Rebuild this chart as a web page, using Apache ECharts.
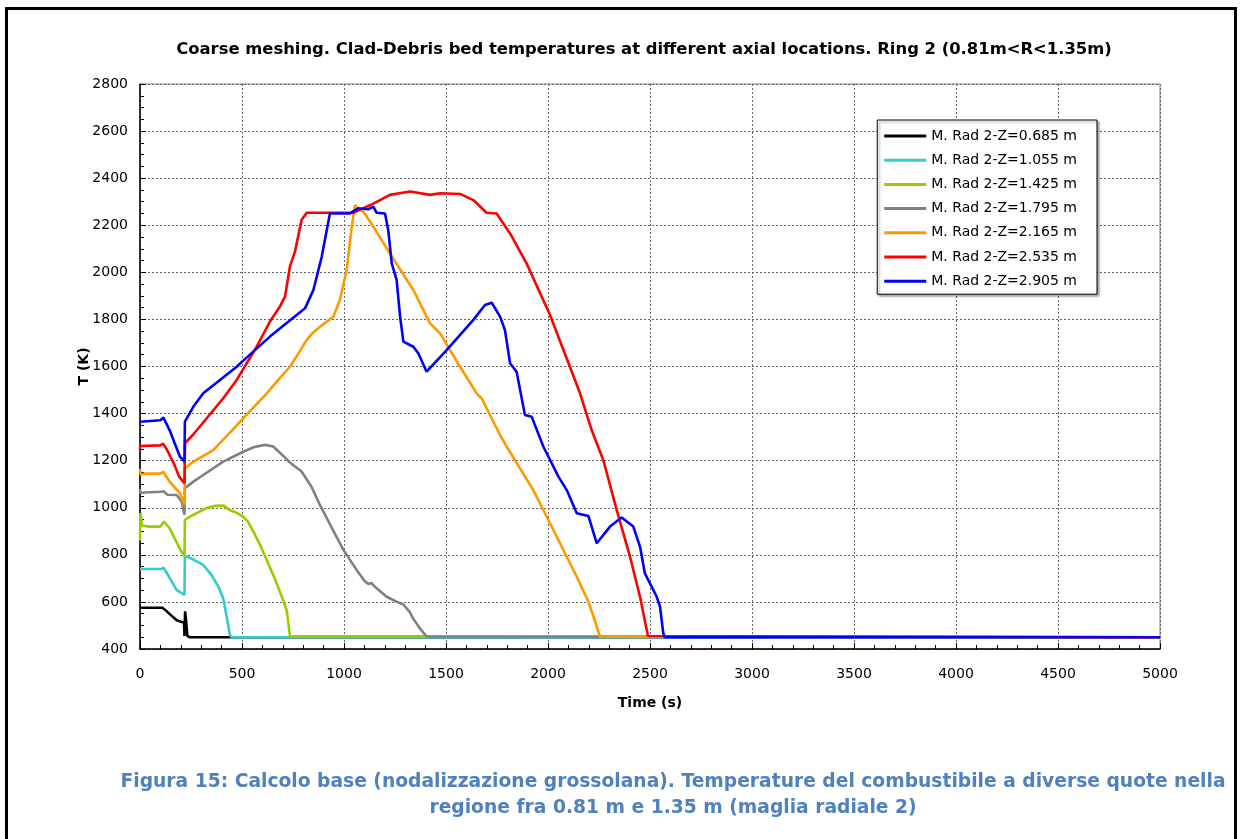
<!DOCTYPE html>
<html>
<head>
<meta charset="utf-8">
<script src="https://cdn.jsdelivr.net/npm/echarts@6/dist/echarts.min.js"></script>
<style>
  html, body { margin: 0; padding: 0; background: #fff; }
  #frame { position: absolute; left: 5px; top: 7px; width: 1226px; height: 840px; border: 3px solid #000; border-bottom: none; }
  #chart { position: absolute; left: 0; top: 0; width: 1243px; height: 839px; }
</style>
</head>
<body>
<div id="frame"></div>
<div id="chart"></div>
<script>
// time (s) / temperature (K) pairs
const z0685 = [[0,575],[110,575],[125,565],[150,545],[180,522],[205,515],[216,512],[218,455],[221,560],[226,520],[232,455],[245,450],[5000,450]];
const z1055 = [[0,740],[105,740],[115,745],[130,725],[160,680],[180,650],[200,640],[218,630],[220,795],[262,780],[310,757],[351,714],[384,665],[408,615],[425,537],[441,459],[449,450],[5000,450]];
const z1425 = [[0,860],[2,978],[10,925],[40,920],[100,920],[118,941],[145,913],[178,856],[203,813],[218,795],[220,948],[250,965],[280,978],[330,1000],[370,1008],[410,1009],[440,990],[470,980],[506,962],[530,940],[555,900],[590,840],[621,778],[660,700],[703,605],[720,560],[735,455],[740,450],[5000,450]];
const z1795 = [[0,1080],[2,1062],[20,1065],[100,1068],[115,1070],[135,1055],[180,1054],[205,1025],[218,970],[220,1083],[260,1110],[310,1139],[408,1196],[506,1238],[560,1258],[613,1267],[653,1260],[703,1220],[735,1192],[760,1175],[792,1154],[840,1090],[882,1012],[940,915],[997,821],[1062,736],[1100,690],[1119,676],[1135,680],[1150,665],[1209,622],[1260,600],[1291,589],[1320,560],[1340,528],[1370,490],[1405,453],[1410,450],[5000,450]];
const z2165 = [[0,1165],[3,1140],[20,1145],[100,1145],[115,1152],[145,1111],[196,1061],[218,1012],[220,1167],[260,1195],[359,1245],[420,1300],[506,1380],[560,1430],[621,1486],[680,1545],[735,1599],[780,1660],[817,1713],[850,1745],[882,1769],[948,1812],[980,1883],[1013,2010],[1038,2194],[1054,2286],[1070,2270],[1095,2258],[1144,2194],[1225,2080],[1340,1925],[1422,1783],[1471,1741],[1569,1599],[1650,1486],[1675,1464],[1765,1309],[1797,1260],[1928,1075],[2010,934],[2141,707],[2198,601],[2230,520],[2255,452],[2260,450],[5000,450]];
const z2535 = [[0,1250],[1,1262],[100,1265],[113,1272],[130,1250],[145,1224],[170,1180],[192,1132],[218,1104],[219,1180],[221,1275],[260,1310],[327,1380],[408,1465],[474,1543],[523,1614],[572,1684],[637,1791],[686,1855],[711,1897],[735,2025],[760,2089],[792,2222],[817,2253],[1046,2253],[1100,2275],[1144,2292],[1225,2329],[1324,2343],[1422,2329],[1471,2336],[1569,2333],[1634,2307],[1699,2253],[1748,2250],[1814,2165],[1895,2038],[2010,1819],[2157,1486],[2214,1330],[2271,1203],[2337,990],[2402,792],[2451,622],[2490,455],[2495,450],[5000,450]];
const z2905 = [[0,1365],[3,1372],[100,1372],[115,1383],[145,1330],[170,1274],[196,1217],[218,1196],[220,1366],[262,1430],[310,1486],[392,1543],[474,1599],[506,1625],[637,1727],[809,1847],[850,1925],[891,2067],[931,2250],[1029,2250],[1070,2272],[1119,2268],[1144,2279],[1160,2253],[1201,2250],[1217,2179],[1234,2038],[1258,1968],[1275,1812],[1291,1706],[1340,1684],[1364,1656],[1405,1578],[1503,1670],[1634,1798],[1691,1861],[1724,1871],[1765,1812],[1789,1755],[1814,1614],[1846,1578],[1887,1394],[1920,1387],[1977,1260],[2051,1132],[2092,1075],[2141,977],[2198,965],[2239,849],[2304,920],[2361,959],[2418,920],[2451,835],[2475,721],[2533,622],[2549,580],[2565,467],[2573,450],[5000,450]];

const seriesNames = ['M. Rad 2-Z=0.685 m','M. Rad 2-Z=1.055 m','M. Rad 2-Z=1.425 m','M. Rad 2-Z=1.795 m','M. Rad 2-Z=2.165 m','M. Rad 2-Z=2.535 m','M. Rad 2-Z=2.905 m'];
const seriesData = [z0685, z1055, z1425, z1795, z2165, z2535, z2905];
const colors = ['#000000','#33CCCC','#99CC00','#808080','#FF9900','#FF0000','#0000FF'];

const font = "'DejaVu Sans', 'Liberation Sans', Arial, sans-serif";
const chart = echarts.init(document.getElementById('chart'));

const option = {
  backgroundColor: 'transparent',
  animation: false,
  title: [
    {
      text: 'Coarse meshing. Clad-Debris bed temperatures at different axial locations. Ring 2 (0.81m<R<1.35m)',
      left: 639, top: 37, textAlign: 'center',
      textStyle: { fontFamily: font, fontSize: 16.4, fontWeight: 'bold', color: '#000' }
    },
    {
      text: 'Figura 15: Calcolo base (nodalizzazione grossolana). Temperature del combustibile a diverse quote nella\nregione fra 0.81 m e 1.35 m (maglia radiale 2)',
      left: 668, top: 764, textAlign: 'center',
      textStyle: { fontFamily: font, fontSize: 18.7, fontWeight: 'bold', color: '#4F81BD', lineHeight: 26, align: 'center' }
    }
  ],
  legend: {
    orient: 'vertical',
    right: 146, top: 120,
    icon: 'rect',
    itemWidth: 42, itemHeight: 3, itemGap: 10.2,
    padding: [9, 20, 6, 7],
    backgroundColor: '#fff',
    borderColor: '#000', borderWidth: 1, borderRadius: 0,
    shadowColor: 'rgba(0,0,0,0.35)', shadowOffsetX: 2, shadowOffsetY: 2, shadowBlur: 2,
    textStyle: { fontFamily: font, fontSize: 14, lineHeight: 14, color: '#000' },
    data: seriesNames
  },
  grid: {
    left: 140, right: 83, top: 84, bottom: 190,
    show: true, borderColor: '#808080', borderWidth: 1
  },
  xAxis: {
    type: 'value', min: 0, max: 5000, interval: 500,
    name: 'Time (s)', nameLocation: 'middle', nameGap: 47, nameMoveOverlap: false,
    nameTextStyle: { fontFamily: font, fontSize: 14, fontWeight: 'bold', color: '#000' },
    axisLine: { lineStyle: { color: '#000', width: 1.5 } },
    axisTick: { inside: true, length: 6, lineStyle: { color: '#000' } },
    minorTick: { show: true, splitNumber: 5, length: 4, lineStyle: { color: '#000' } },
    axisLabel: { fontFamily: font, fontSize: 14, color: '#000', margin: 18, formatter: v => String(v) },
    splitLine: { show: true, lineStyle: { color: '#666', type: [2, 2], width: 1 } }
  },
  yAxis: {
    type: 'value', min: 400, max: 2800, interval: 200,
    name: 'T (K)', nameLocation: 'middle', nameGap: 49, nameMoveOverlap: false,
    nameTextStyle: { fontFamily: font, fontSize: 14, fontWeight: 'bold', color: '#000' },
    axisLine: { show: true, lineStyle: { color: '#000', width: 1.5 } },
    axisTick: { show: true, inside: true, length: 6, lineStyle: { color: '#000' } },
    minorTick: { show: true, splitNumber: 4, length: 4, lineStyle: { color: '#000' } },
    axisLabel: { fontFamily: font, fontSize: 14, color: '#000', margin: 12, formatter: v => String(v) },
    splitLine: { show: true, lineStyle: { color: '#666', type: [2, 2], width: 1 } }
  },
  series: seriesNames.map((name, i) => ({
    name: name,
    type: 'line',
    data: seriesData[i],
    symbol: 'none',
    color: colors[i],
    lineStyle: { color: colors[i], width: 2.6 },
    z: 2 + i
  }))
};

chart.setOption(option);
</script>
</body>
</html>
